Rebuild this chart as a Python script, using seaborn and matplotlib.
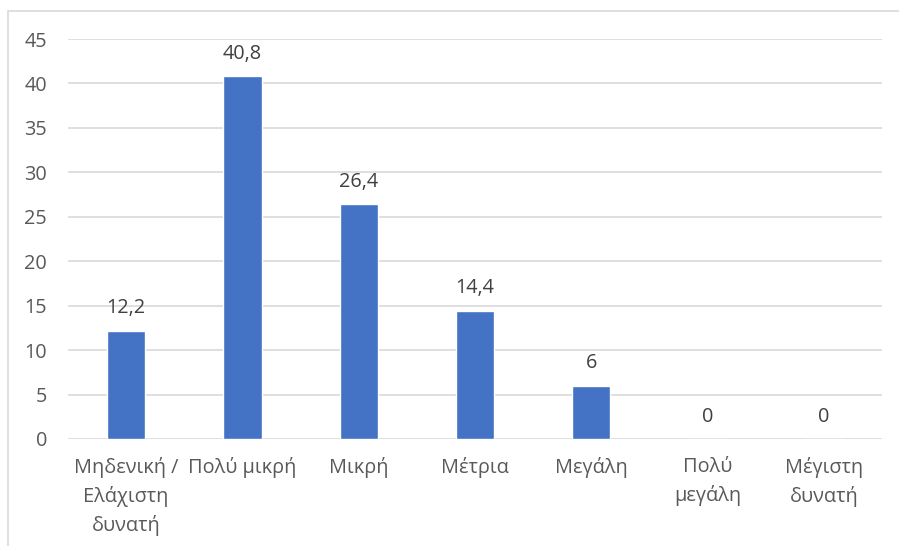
import matplotlib
matplotlib.use("Agg")
import matplotlib.pyplot as plt
import seaborn as sns
import pandas as pd
from matplotlib.patches import Rectangle

categories = ["Μηδενική /\nΕλάχιστη\nδυνατή", "Πολύ μικρή", "Μικρή", "Μέτρια",
              "Μεγάλη", "Πολύ\nμεγάλη", "Μέγιστη\nδυνατή"]
values = [12.2, 40.8, 26.4, 14.4, 6, 0, 0]
value_labels = ["12,2", "40,8", "26,4", "14,4", "6", "0", "0"]
yticks = [0, 5, 10, 15, 20, 25, 30, 35, 40, 45]

sns.set_theme(style="white")
plt.rcParams["font.family"] = ["Open Sans", "DejaVu Sans"]

text_color = "#595959"
grid_color = "#D9D9D9"
bar_color = "#4472C4"
fs = 14.3

fig = plt.figure(figsize=(8.99, 5.46), dpi=100)
fig.patch.set_facecolor("white")
# chart frame (light grey border)
fig.patches.append(Rectangle((8 / 899, -0.05), 1.2, (546 - 11) / 546 + 0.05,
                             transform=fig.transFigure, fill=False,
                             edgecolor=grid_color, linewidth=1.2, zorder=0))

ax = fig.add_axes([68 / 899, (546 - 439) / 546, (882 - 68) / 899, 400 / 546])

df = pd.DataFrame({"cat": categories, "val": values})
sns.barplot(data=df, x="cat", y="val", color=bar_color, saturation=1,
            width=0.33, ax=ax, zorder=3)

ax.set_ylim(0, 45)
ax.set_xlim(-0.5, len(categories) - 0.5)
ax.set_yticks(yticks)
ax.set_yticklabels([str(t) for t in yticks])
ax.yaxis.grid(True, color=grid_color, linewidth=1.2, zorder=0)
ax.set_axisbelow(True)
for s in ax.spines.values():
    s.set_visible(False)
ax.set_xlabel("")
ax.set_ylabel("")
ax.tick_params(axis="both", length=0, labelsize=fs, colors=text_color)
ax.tick_params(axis="y", pad=15)
ax.tick_params(axis="x", pad=13)
for lbl in ax.get_xticklabels():
    lbl.set_linespacing(1.5)

for i, (v, t) in enumerate(zip(values, value_labels)):
    ax.annotate(t, (i, v), xytext=(0, 9), textcoords="offset points",
                ha="center", va="bottom", fontsize=fs, color="#404040")

fig.savefig("out.png", dpi=100, facecolor="white")
